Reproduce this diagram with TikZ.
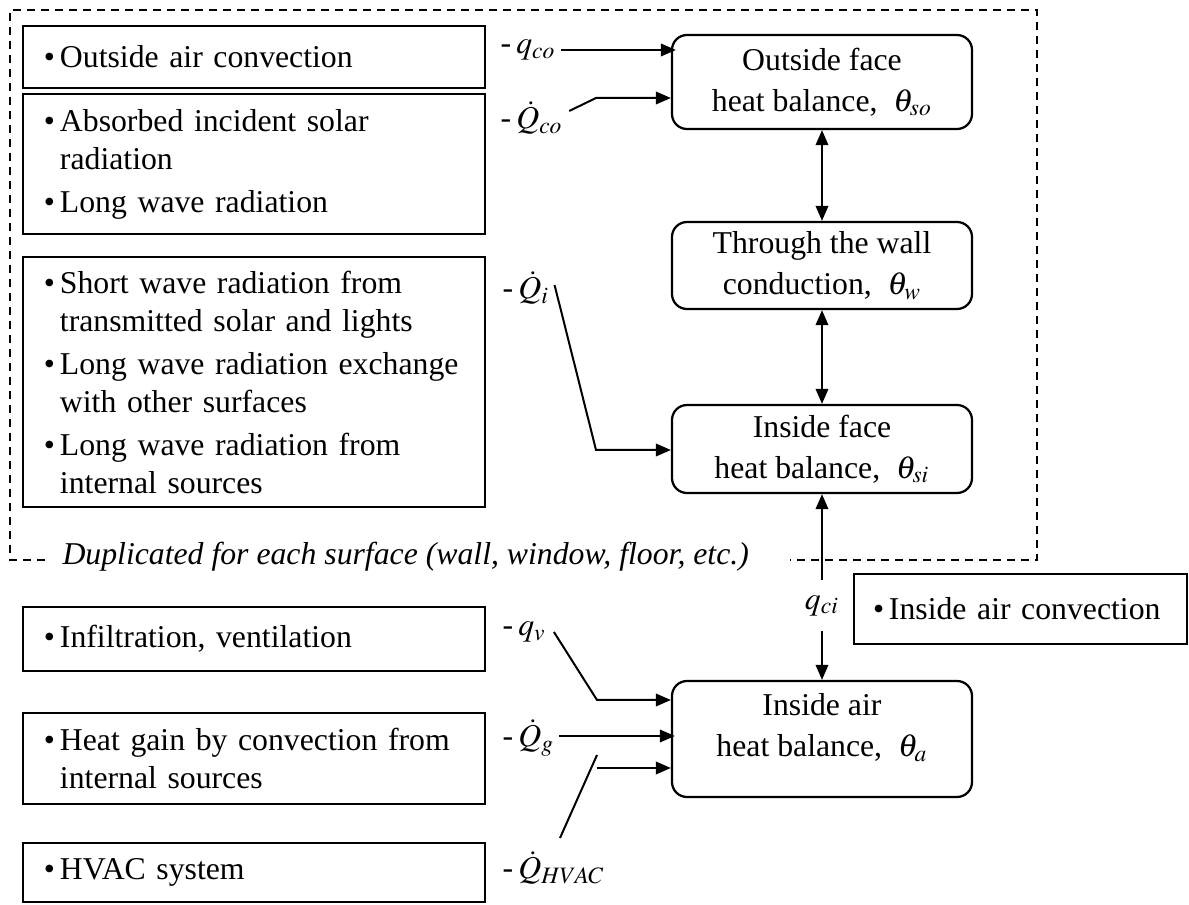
\documentclass[tikz,border=0pt]{standalone}
\usepackage{mathptmx}
\usepackage{fontspec}
\setmainfont{Liberation Serif}
\usetikzlibrary{arrows.meta, positioning}

\newcommand{\bl}{\makebox[6.4pt][l]{\textbullet}}
\newcommand{\ind}{\hspace*{6.4pt}}
\hyphenpenalty=10000
\exhyphenpenalty=10000

\begin{document}
\begin{tikzpicture}[x=0.4pt, y=-0.4pt,
  every node/.style={font=\fontsize{12.7}{15.2}\selectfont},
  itembox/.style={rectangle, draw, line width=0.9pt, text width=168pt, inner xsep=8.4pt, align=left},
  balance/.style={rectangle, rounded corners=6pt, draw, line width=0.9pt, minimum width=120pt, inner ysep=1pt, align=center, font=\fontsize{12.7}{16.4}\selectfont},
  flux/.style={inner sep=0pt, anchor=west},
  arr/.style={-{Triangle[length=6pt,width=5pt]}, line width=0.8pt},
  dbl/.style={{Triangle[length=6pt,width=5pt]}-{Triangle[length=6pt,width=5pt]}, line width=0.8pt},
  frame/.style={line width=0.8pt, dash pattern=on 3.2pt off 2.4pt}]
\useasboundingbox (0,0) rectangle (1189,905);

% surface part (dashed)
\draw[frame] (45,560) -- (10,560) -- (10,10) -- (1037,10) -- (1037,560) -- (790,560);
\node[anchor=west, inner sep=0pt] (dup) at (62,557) {\textit{Duplicated for each surface (wall, window, floor, etc.)}};

\node[itembox, minimum height=24.8pt] (outconv) at (254,57) {\bl Outside air convection};
\node[itembox, minimum height=56pt] (solar) at (254,164) {\bl Absorbed incident solar\\ \ind radiation\\[2pt] \bl Long wave radiation};
\node[itembox, minimum height=100pt] (shortwave) at (254,382) {\bl Short wave radiation from\\ \ind transmitted solar and lights\\[2pt] \bl Long wave radiation exchange\\ \ind with other surfaces\\[2pt] \bl Long wave radiation from\\ \ind internal sources};
\node[itembox, minimum height=25.6pt] (infil) at (254,639) {\bl Infiltration, ventilation};
\node[itembox, minimum height=36.4pt] (gain) at (254,758.5) {\bl Heat gain by convection from\\ \ind internal sources};
\node[itembox, minimum height=23.6pt] (hvac) at (254,872.5) {\bl HVAC system};
\node[rectangle, draw, line width=0.9pt, minimum height=28pt, text width=118pt, inner xsep=7.6pt, align=left] (inconv) at (1020.5,609) {\bl Inside air convection};

\node[balance, minimum height=37.6pt] (outface) at (822,82) {Outside face\\heat balance, \ $\theta_{so}$};
\node[balance, minimum height=34.8pt] (wall) at (822,265.5) {Through the wall\\conduction, \ $\theta_{w}$};
\node[balance, minimum height=35.2pt] (inface) at (822,449) {Inside face\\heat balance, \ $\theta_{si}$};
\node[balance, minimum height=46.4pt] (inair) at (822,739) {Inside air\\heat balance, \ $\theta_{a}$\\[-5pt]};

\node[flux] (qco) at (500,50) {-\,$q_{co}$};
\node[flux] (Qco) at (500,118) {-\,$\dot{Q}_{co}$};
\node[flux] (Qi) at (502,288) {-\,$\dot{Q}_{i}$};
\node[flux] (qv) at (502,632) {-\,$q_{v}$};
\node[flux] (Qg) at (502,738) {-\,$\dot{Q}_{g}$};
\node[flux] (Qhvac) at (502,868) {-\,$\dot{Q}_{HVAC}$};

\coordinate (kQco) at (596,98);
\coordinate (kQi) at (596,450);
\coordinate (kqv) at (597,700);
\coordinate (hvacA) at (560,838);
\coordinate (hvacB) at (597,755);
\coordinate (hvacC) at (597,768);

\draw[arr] ([xshift=2pt]qco.east) -- ([xshift=2pt]qco.east -| outface.west);
\draw[arr] ([shift={(6,-7)}]Qco.east) -- (kQco) -- (kQco -| outface.west);
\draw[arr] ([shift={(5,-3)}]Qi.east) -- (kQi) -- (kQi -| inface.west);
\draw[arr] ([xshift=3pt]qv.east) -- (kqv) -- (kqv -| inair.west);
\draw[arr] ([shift={(4,-2)}]Qg.east) -- ([shift={(4,-2)}]Qg.east -| inair.west);
\draw[line width=0.8pt] (hvacA) -- (hvacB);
\draw[arr] (hvacC) -- (hvacC -| inair.west);

\draw[dbl] (outface) -- (wall);
\draw[dbl] (wall) -- (inface);
\draw[dbl] (inface) -- (inair) node[pos=0.6, fill=white, inner xsep=2pt, inner ysep=6pt] (qci) {$q_{ci}$};
\end{tikzpicture}
\end{document}
